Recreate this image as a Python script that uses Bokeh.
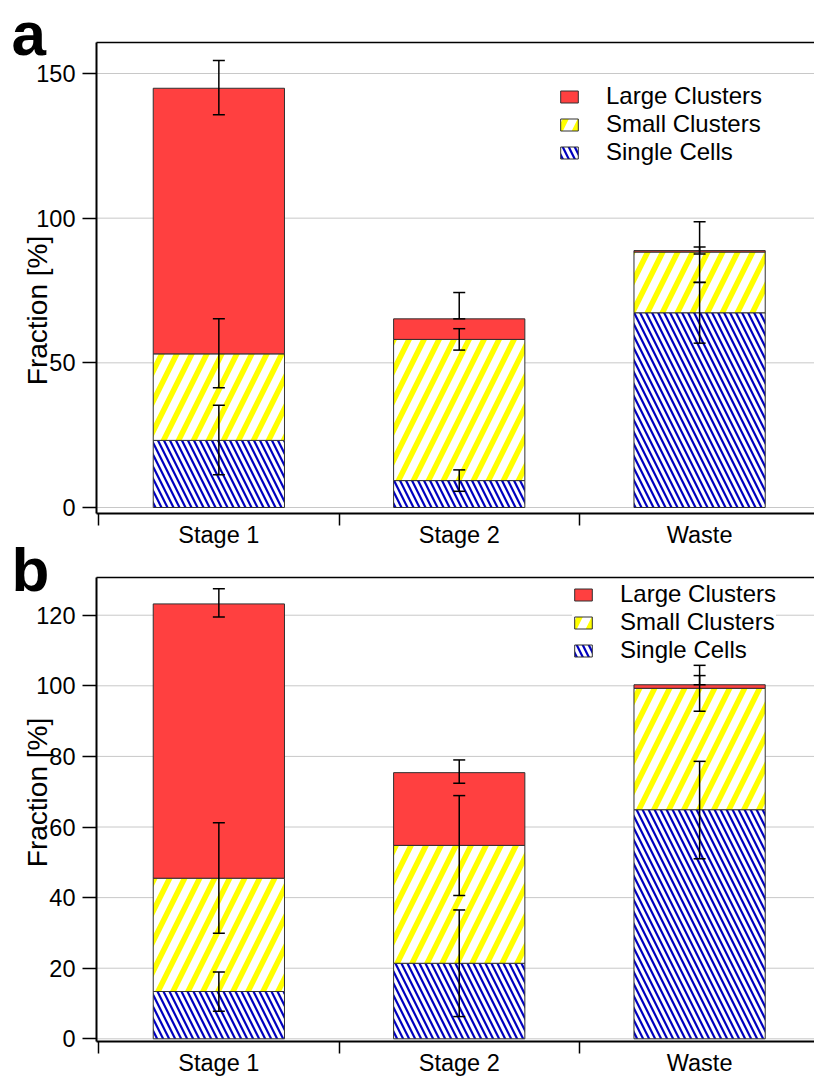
import numpy as np
from bokeh.plotting import figure
from bokeh.models import (Range1d, FixedTicker, LinearAxis, Label, Legend, LegendItem,
                          Whisker, ColumnDataSource, TeeHead)
from bokeh.embed import file_html
from bokeh.resources import INLINE

# ---------------- data ----------------
categories = ["Stage 1", "Stage 2", "Waste"]
series_names = ["Large Clusters", "Small Clusters", "Single Cells"]

# panel a (fractions in %)
a_single = [23.2, 9.3, 67.3]
a_small = [29.9, 48.8, 21.0]
a_large = [91.8, 7.1, 0.5]
a_single_err_plus = [12.1, 3.7, 10.5]
a_single_err_minus = [11.9, 3.7, 10.5]
a_small_err_plus = [12.1, 3.7, 10.5]
a_small_err_minus = [11.7, 3.7, 10.5]
a_large_err_plus = [9.6, 9.1, 1.2]
a_large_err_minus = [9.2, 0.0, 1.2]
a_yticks = [0, 50, 100, 150]

# panel b
b_single = [13.4, 21.4, 64.9]
b_small = [32.1, 33.4, 34.4]
b_large = [77.7, 20.6, 1.0]
b_single_err_plus = [5.5, 15.1, 13.7]
b_single_err_minus = [5.6, 15.1, 13.9]
b_small_err_plus = [15.7, 14.1, 6.5]
b_small_err_minus = [15.6, 14.2, 6.5]
b_large_err_plus = [4.3, 3.6, 2.6]
b_large_err_minus = [3.7, 3.0, 0.0]
b_yticks = [0, 20, 40, 60, 80, 100, 120]

FONT = "Liberation Sans"
RED = "#FF4040"
YELLOW = "#FFFF00"
BLUE = "#0000C0"
EDGE = "#303030"
GRID = "#C8C8C8"

# shared horizontal extent of both plot boxes (data units)
X_LEFT, X_VIEW_START, X_VIEW_END = -0.509, -0.9084, 2.478

# one canvas, two vertical scales (panel a uses the default range, panel b an extra one)
p = figure(width=814, height=1080, output_backend="svg", toolbar_location=None,
           x_range=Range1d(X_VIEW_START, X_VIEW_END),
           y_range=Range1d(-198.04, 175.23),
           x_axis_type=None, y_axis_type=None,
           min_border_left=0, min_border_right=0, min_border_top=0, min_border_bottom=0)
p.extra_y_ranges = {"b": Range1d(-11.81, 294.14)}
p.outline_line_color = None
p.background_fill_color = "white"
p.xgrid.visible = False
p.ygrid.visible = False


def draw_panel(rn, letter, single, small, large, errs, yticks, y_bottom, y_top,
               legend_xy, letter_y, ylabel_y):
    x = np.arange(len(categories), dtype=float)
    single = np.array(single)
    small = np.array(small)
    large = np.array(large)
    top_single = single
    top_small = single + small
    top_large = top_small + large

    # horizontal grid lines inside the plot box
    p.segment(x0=X_LEFT, x1=X_VIEW_END, y0=yticks, y1=yticks, y_range_name=rn,
              line_color=GRID, line_width=1, level="underlay")

    w = 0.546
    src = ColumnDataSource(dict(x=x, b0=np.zeros_like(x), t0=top_single,
                                t1=top_small, t2=top_large))
    r_single = p.vbar(x="x", bottom="b0", top="t0", width=w, source=src, y_range_name=rn,
                      fill_color="white", line_color=EDGE, line_width=1,
                      hatch_pattern="\\", hatch_color=BLUE, hatch_scale=12, hatch_weight=2.2)
    r_small = p.vbar(x="x", bottom="t0", top="t1", width=w, source=src, y_range_name=rn,
                     fill_color="white", line_color=EDGE, line_width=1,
                     hatch_pattern="/", hatch_color=YELLOW, hatch_scale=30, hatch_weight=5.5)
    r_large = p.vbar(x="x", bottom="t1", top="t2", width=w, source=src, y_range_name=rn,
                     fill_color=RED, line_color=EDGE, line_width=1)

    tops = [top_single, top_small, top_large]
    for (plus, minus), top in zip(errs, tops):
        es = ColumnDataSource(dict(x=x, upper=top + np.array(plus), lower=top - np.array(minus)))
        wk = Whisker(source=es, base="x", upper="upper", lower="lower", y_range_name=rn,
                     line_color="black", line_width=1.5, level="annotation",
                     upper_head=TeeHead(size=12, line_width=1.5, line_color="black"),
                     lower_head=TeeHead(size=12, line_width=1.5, line_color="black"))
        p.add_layout(wk)

    # y axis on the left edge of the plot box
    ya = LinearAxis(y_range_name=rn, fixed_location=X_LEFT, bounds=(y_bottom, y_top),
                    ticker=FixedTicker(ticks=yticks),
                    major_label_text_font=FONT, major_label_text_font_size="23.5px",
                    major_label_text_color="black", major_label_standoff=7,
                    major_tick_out=14, major_tick_in=0, major_tick_line_width=1.5,
                    minor_tick_line_color=None, axis_line_width=2)
    p.add_layout(ya, "left")

    # x axis on the bottom edge of the plot box
    xa = LinearAxis(y_range_name=rn, fixed_location=y_bottom, bounds=(X_LEFT, X_VIEW_END),
                    ticker=FixedTicker(ticks=[0, 1, 2], minor_ticks=[-0.5, 0.5, 1.5, 2.5]),
                    major_label_overrides={0: categories[0], 1: categories[1], 2: categories[2]},
                    major_label_text_font=FONT, major_label_text_font_size="23.5px",
                    major_label_text_color="black", major_label_standoff=-4,
                    major_tick_out=0, major_tick_in=0, major_tick_line_color=None,
                    minor_tick_out=12, minor_tick_in=0, minor_tick_line_width=1.5,
                    axis_line_width=2)
    p.add_layout(xa, "below")

    # top edge of the plot box
    top_axis = LinearAxis(y_range_name=rn, fixed_location=y_top, bounds=(X_LEFT, X_VIEW_END),
                          ticker=FixedTicker(ticks=[]), axis_line_color="black",
                          axis_line_width=1.5, major_tick_line_color=None,
                          minor_tick_line_color=None, major_label_text_font_size="0px")
    p.add_layout(top_axis, "above")

    legend = Legend(items=[LegendItem(label=series_names[0], renderers=[r_large]),
                           LegendItem(label=series_names[1], renderers=[r_small]),
                           LegendItem(label=series_names[2], renderers=[r_single])],
                    location=legend_xy, background_fill_color="white", background_fill_alpha=1,
                    border_line_color=None, label_text_font=FONT, label_text_font_size="24px",
                    label_text_color="black",
                    glyph_width=22, glyph_height=15, label_standoff=26, spacing=0,
                    padding=4, margin=0)
    p.add_layout(legend)

    p.add_layout(Label(x=37, y=ylabel_y, x_units="screen", y_units="screen",
                       text="Fraction [%]", angle=np.pi / 2, text_font=FONT,
                       text_font_size="28px", text_align="center", text_baseline="middle",
                       text_color="black"))

    p.add_layout(Label(x=11, y=letter_y, x_units="screen", y_units="screen", text=letter,
                       text_font=FONT, text_font_size="62px", text_font_style="bold",
                       text_baseline="alphabetic", text_align="left", text_color="black"))


draw_panel("default", "a", a_single, a_small, a_large,
           [(a_single_err_plus, a_single_err_minus),
            (a_small_err_plus, a_small_err_minus),
            (a_large_err_plus, a_large_err_minus)],
           a_yticks, -2.2, 160.7, (558, 914), 1047, 770)
draw_panel("b", "b", b_single, b_small, b_large,
           [(b_single_err_plus, b_single_err_minus),
            (b_small_err_plus, b_small_err_minus),
            (b_large_err_plus, b_large_err_minus)],
           b_yticks, -0.8, 130.6, (572, 416), 511, 288)

open("out.html", "w").write(file_html(p, INLINE))
